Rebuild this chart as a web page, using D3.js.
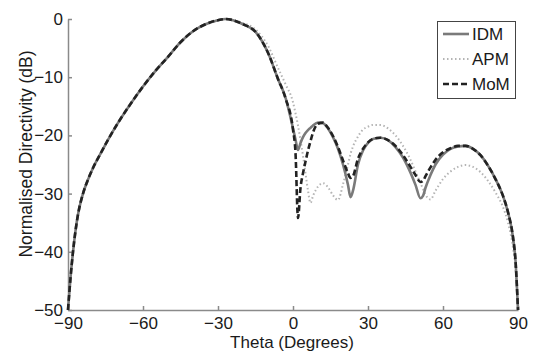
<!DOCTYPE html>
<html>
<head>
<meta charset="utf-8">
<script src="https://cdn.jsdelivr.net/npm/d3@7"></script>
<style>
body { margin: 0; background: #fff; }
svg text { font-family: "Liberation Sans", Arial, sans-serif; fill: #1a1a1a; }
.axis path, .axis line { stroke: #8a8a8a; stroke-width: 1.5; }
.axis text { font-size: 17px; }
</style>
</head>
<body>
<div id="chart"></div>
<script>
"use strict";

// angle grid (degrees)
var theta = [-90, -89, -88, -87, -86, -84, -82, -80, -77, -74, -70, -65, -60, -55, -50,
    -45, -40, -35, -30, -27, -24, -20, -15, -10, -6, -3, 0, 1, 2, 3, 4, 5, 6, 7, 8, 10,
    12, 14, 16, 18, 20, 22, 23, 24, 26, 28, 30, 32, 35, 38, 41, 44, 47, 49,
    51, 52, 53, 55, 57, 60, 63, 66, 69, 72, 75, 78, 81, 84, 86, 88, 89, 90];

// shared left part of the main lobe (-90 .. -24)
var mainLobe = [-50, -44.5, -40, -36.4, -33.6, -30, -27.6, -25.6, -23.15, -20.75, -17.85,
    -14.6, -11.6, -8.9, -6.5, -4.0, -2.1, -0.9, -0.2, 0, -0.2];

// normalised directivity (dB), from -20 deg onwards
var idm = mainLobe.concat([-0.9, -2.2, -5.8, -10.3, -13.5, -18.8, -20.7,
    -22.5, -21.3, -20.3, -19.6, -19.1, -18.7, -18.3, -17.8, -17.9, -18.8, -20.3,
    -22.3, -25, -28.5, -30.6, -29.5, -25, -22.6, -21.3, -20.6, -20.4, -20.8, -22,
    -23.8, -26.4, -28.5, -30.8, -30.4, -29, -26.8, -25, -23.3, -22.3, -21.9, -21.8,
    -22.3, -23.4, -25.2, -27.5, -30.4, -33.2, -37.5, -41.5, -50]);

var apm = mainLobe.concat([-0.7, -1.8, -4.6, -8.4, -11.2, -14.3, -16.2,
    -18.3, -20.8, -23.5, -26.5, -29.5, -31.6, -30.4, -28.8, -28.2, -28.9, -30.3,
    -31.1, -28.4, -25, -23.2, -21.9, -20.2, -19, -18.5, -18.2, -18.2, -18.8, -20,
    -21.8, -24.2, -26.2, -28.2, -29.2, -30.2, -31, -29.5, -27.5, -26.2, -25.4, -25.1,
    -25.4, -26.3, -27.8, -29.8, -32.3, -35, -39.3, -43, -50]);

var mom = mainLobe.concat([-0.9, -2.2, -5.8, -10.3, -13.6, -19, -23,
    -34.2, -29, -26.5, -24.5, -22.6, -21, -19.5, -18, -17.8, -18.7, -20.1, -22,
    -24.3, -26.5, -27.3, -27, -24, -22.3, -21.2, -20.6, -20.4, -20.8, -21.8, -23.4,
    -25.4, -26.8, -28, -27.8, -27, -25.5, -24.2, -22.9, -22.2, -21.8, -21.8,
    -22.3, -23.4, -25.2, -27.5, -30.4, -33.2, -37.5, -41.5, -50]);

var xTicks = [-90, -60, -30, 0, 30, 60, 90];
var yTicks = [0, -10, -20, -30, -40, -50];

var series = [
    { "name": "IDM", "values": idm, "color": "#7a7a7a", "width": 2.6, "dash": null },
    { "name": "APM", "values": apm, "color": "#b4b4b4", "width": 2, "dash": "1.5,2.5" },
    { "name": "MoM", "values": mom, "color": "#222222", "width": 2.6, "dash": "6,3" }
];

var width = 534, height = 354;
var svg = d3.select("#chart").append("svg")
    .attr("width", width)
    .attr("height", height);

var x = d3.scaleLinear().domain([-90, 90]).range([68, 518]);
var y = d3.scaleLinear().domain([-50, 0]).range([310, 19]);

// axes (inward ticks, no box)
svg.append("g")
    .attr("class", "axis")
    .attr("transform", "translate(0,310)")
    .call(d3.axisBottom(x).tickValues(xTicks).tickSizeInner(-4).tickSizeOuter(0).tickPadding(6))
    .call(function(g) { g.selectAll("text").attr("dy", "0.78em"); });

svg.append("g")
    .attr("class", "axis")
    .attr("transform", "translate(68,0)")
    .call(d3.axisLeft(y).tickValues(yTicks).tickSizeInner(-4).tickSizeOuter(0).tickPadding(5));

// axis titles
svg.append("text")
    .attr("x", 292)
    .attr("y", 348)
    .attr("text-anchor", "middle")
    .style("font-size", "17px")
    .text("Theta (Degrees)");

svg.append("text")
    .attr("transform", "translate(32,154) rotate(-90)")
    .attr("text-anchor", "middle")
    .style("font-size", "17.5px")
    .text("Normalised Directivity (dB)");

// curves
var line = d3.line()
    .curve(d3.curveMonotoneX)
    .x(function(d, i) { return x(theta[i]); })
    .y(function(d) { return y(d); });

[series[1], series[0], series[2]].forEach(function(s) {
    svg.append("path")
        .attr("d", line(s.values))
        .attr("fill", "none")
        .attr("stroke", s.color)
        .attr("stroke-width", s.width)
        .attr("stroke-dasharray", s.dash);
});

// legend
var legend = svg.append("g");
legend.append("rect")
    .attr("x", 437.5)
    .attr("y", 21.5)
    .attr("width", 78)
    .attr("height", 77)
    .attr("fill", "#fff")
    .attr("stroke", "#444")
    .attr("stroke-width", 1);

series.forEach(function(s, i) {
    var ly = 34 + i * 25;
    legend.append("line")
        .attr("x1", 443)
        .attr("x2", 469)
        .attr("y1", ly)
        .attr("y2", ly)
        .attr("stroke", s.color)
        .attr("stroke-width", s.width)
        .attr("stroke-dasharray", s.dash);
    legend.append("text")
        .attr("x", 472)
        .attr("y", ly + 6)
        .style("font-size", "17px")
        .text(s.name);
});
</script>
</body>
</html>
